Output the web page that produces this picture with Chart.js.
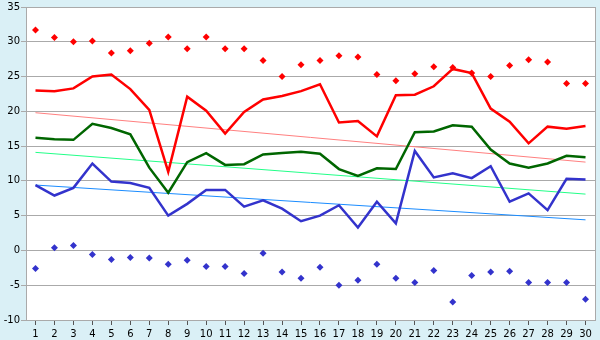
<!DOCTYPE html>
<html>
<head>
<meta charset="utf-8">
<script src="https://cdn.jsdelivr.net/npm/chart.js@4"></script>
<style>
  html, body { margin: 0; padding: 0; background: #daf0f6; }
  #wrap { width: 600px; height: 340px; }
</style>
</head>
<body>
<div id="wrap"><canvas id="chart"></canvas></div>
<script>
const days = ["1","2","3","4","5","6","7","8","9","10","11","12","13","14","15","16","17","18","19","20","21","22","23","24","25","26","27","28","29","30"];

const highMax = [31.7, 30.6, 30.0, 30.1, 28.4, 28.7, 29.8, 30.7, 29.0, 30.7, 29.0, 29.0, 27.3, 25.0, 26.7, 27.3, 28.0, 27.8, 25.3, 24.4, 25.4, 26.4, 26.3, 25.5, 25.0, 26.6, 27.4, 27.1, 24.0, 24.0];
const highAvg = [23.0, 22.9, 23.3, 25.0, 25.3, 23.2, 20.2, 11.3, 22.1, 20.1, 16.8, 19.9, 21.7, 22.2, 22.9, 23.9, 18.4, 18.6, 16.4, 22.3, 22.4, 23.6, 26.1, 25.5, 20.4, 18.5, 15.4, 17.8, 17.5, 17.9];
const meanAvg = [16.2, 16.0, 15.9, 18.2, 17.6, 16.7, 11.9, 8.3, 12.7, 14.0, 12.3, 12.4, 13.8, 14.0, 14.2, 13.9, 11.7, 10.7, 11.8, 11.7, 17.0, 17.1, 18.0, 17.8, 14.5, 12.5, 11.9, 12.5, 13.6, 13.4];
const lowAvg = [9.4, 7.9, 9.0, 12.5, 9.9, 9.7, 9.0, 5.0, 6.7, 8.7, 8.7, 6.3, 7.2, 6.0, 4.2, 5.0, 6.5, 3.3, 7.0, 3.9, 14.3, 10.5, 11.1, 10.4, 12.1, 7.0, 8.2, 5.8, 10.3, 10.2];
const lowMin = [-2.6, 0.4, 0.7, -0.6, -1.3, -1.0, -1.1, -2.0, -1.4, -2.3, -2.3, -3.3, -0.4, -3.1, -4.0, -2.4, -5.0, -4.3, -2.0, -4.0, -4.6, -2.9, -7.4, -3.6, -3.1, -3.0, -4.6, -4.6, -4.6, -7.0];

// trend lines: value at first and last day
const highTrend = [19.8, 12.7];
const meanTrend = [14.1, 8.1];
const lowTrend = [9.4, 4.4];

const yTicks = [-10, -5, 0, 5, 10, 15, 20, 25, 30, 35];

const trendData = (ends) => days.map((d, i) => i === 0 ? ends[0] : (i === days.length - 1 ? ends[1] : null));

const lineSet = (data, color, order) => ({
    data: data,
    borderColor: color,
    borderWidth: 2.5,
    pointRadius: 0,
    tension: 0,
    order: order
});

const dotSet = (data, color) => ({
    data: data,
    showLine: false,
    pointStyle: "rectRot",
    pointRadius: 3.5,
    pointBorderWidth: 0,
    pointBackgroundColor: color,
    order: 0
});

const trendSet = (ends, color) => ({
    data: trendData(ends),
    borderColor: color,
    borderWidth: 1,
    pointRadius: 0,
    spanGaps: true,
    order: 5
});

const plotFrame = {
    id: "plotFrame",
    beforeDraw(chart) {
        const { ctx, chartArea: a } = chart;
        ctx.save();
        ctx.fillStyle = "#ffffff";
        ctx.fillRect(a.left, a.top, a.right - a.left, a.bottom - a.top);
        ctx.restore();
    },
    afterDatasetsDraw(chart) {
        const { ctx, chartArea: a } = chart;
        ctx.save();
        ctx.strokeStyle = "#aaaaaa";
        ctx.lineWidth = 1;
        ctx.beginPath();
        ctx.moveTo(a.right + 0.5, a.top);
        ctx.lineTo(a.right + 0.5, a.bottom);
        ctx.stroke();
        ctx.restore();
    }
};

const ctx = document.getElementById("chart").getContext("2d");
new Chart(ctx, {
    type: "line",
    data: {
        labels: days,
        datasets: [
            dotSet(highMax, "#ff0000"),
            dotSet(lowMin, "#3333cc"),
            lineSet(highAvg, "#ff0000", 1),
            lineSet(meanAvg, "#006600", 1),
            lineSet(lowAvg, "#3333cc", 1),
            trendSet(highTrend, "#ff8080"),
            trendSet(meanTrend, "#22ff88"),
            trendSet(lowTrend, "#1a8cff")
        ]
    },
    options: {
        responsive: true,
        maintainAspectRatio: false,
        animation: false,
        layout: { padding: { top: 5, right: 5, left: 0, bottom: 0 } },
        plugins: {
            legend: { display: false },
            tooltip: { enabled: false }
        },
        scales: {
            x: {
                offset: true,
                grid: {
                    drawOnChartArea: false,
                    drawTicks: true,
                    tickLength: 5,
                    color: "#555555"
                },
                border: { color: "#aaaaaa" },
                ticks: {
                    color: "#000000",
                    font: { family: "DejaVu Sans", size: 10 },
                    padding: 3,
                    maxRotation: 0,
                    autoSkip: false
                },
                afterFit(scale) { scale.height = 20; }
            },
            y: {
                min: -10,
                max: 35,
                afterBuildTicks(scale) { scale.ticks = yTicks.map(v => ({ value: v })); },
                grid: {
                    color: "#aaaaaa",
                    tickLength: 5
                },
                border: { color: "#aaaaaa" },
                ticks: {
                    color: "#000000",
                    font: { family: "DejaVu Sans", size: 10 },
                    padding: 1
                },
                afterFit(scale) { scale.width = 26; }
            }
        }
    },
    plugins: [plotFrame]
});
</script>
</body>
</html>
